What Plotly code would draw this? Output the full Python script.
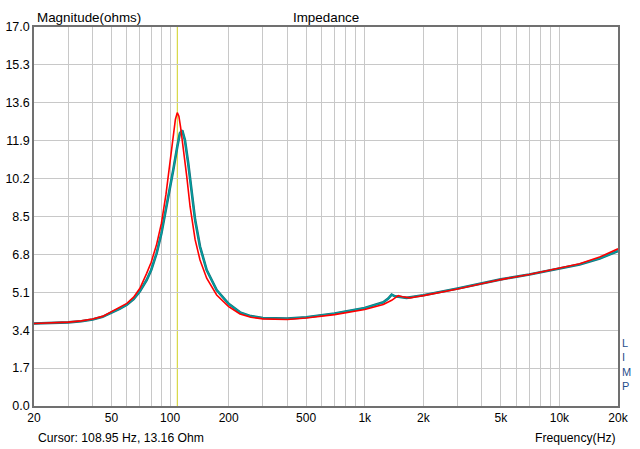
import plotly.graph_objects as go

red_freq = [20, 25, 30, 35, 40, 45, 50, 55, 60, 65, 70, 75.8, 80, 85.3, 90.3, 95.3, 100,
            103.9, 106.5, 108.9, 111, 113.3, 116.9, 121.8, 126.7, 134.5, 142.5, 154.2,
            173.5, 200, 228.8, 260, 300, 400, 500, 700, 1000, 1245, 1375, 1486, 1560,
            1707, 1848, 2000, 3000, 4000, 5000, 7000, 10000, 12700, 16100, 20000]
red_ohm = [3.70, 3.72, 3.76, 3.82, 3.90, 4.02, 4.22, 4.40, 4.60, 4.88, 5.28, 5.95, 6.45,
           7.25, 8.20, 9.50, 11.00, 12.20, 12.85, 13.16, 13.00, 12.50, 11.63, 10.30, 8.95,
           7.46, 6.55, 5.73, 4.98, 4.46, 4.13, 3.98, 3.91, 3.88, 3.95, 4.10, 4.33, 4.55,
           4.74, 4.95, 4.90, 4.85, 4.90, 4.95, 5.25, 5.48, 5.67, 5.90, 6.17, 6.38, 6.68,
           7.05]

teal_freq = [20, 25, 30, 35, 40, 45, 50, 55, 60, 65, 70, 75.8, 80, 85.3, 90.3, 95.3, 100,
             103.9, 108.9, 112.3, 115.5, 119.2, 123.9, 128.9, 134.5, 142.5, 154.2, 173.5,
             200, 228.8, 260, 300, 400, 500, 700, 1000, 1245, 1320, 1375, 1430, 1641,
             1848, 2000, 3000, 4000, 5000, 7000, 10000, 12700, 16100, 20000]
teal_ohm = [3.70, 3.72, 3.75, 3.80, 3.88, 4.00, 4.18, 4.36, 4.55, 4.80, 5.15, 5.65, 6.10,
            6.85, 7.75, 8.80, 9.78, 10.60, 11.63, 12.23, 12.36, 11.93, 10.90, 9.56, 8.35,
            7.15, 6.10, 5.20, 4.58, 4.20, 4.03, 3.95, 3.92, 3.98, 4.15, 4.40, 4.65, 4.82,
            5.00, 4.92, 4.85, 4.92, 4.97, 5.27, 5.50, 5.68, 5.90, 6.15, 6.35, 6.62, 6.95]

grid_freqs = [20, 30, 40, 50, 60, 70, 80, 90, 100, 200, 300, 400, 500, 600, 700, 800,
              900, 1000, 2000, 3000, 4000, 5000, 6000, 7000, 8000, 9000, 10000, 20000]
labelled = {20: "20", 50: "50", 100: "100", 200: "200", 500: "500", 1000: "1k",
            2000: "2k", 5000: "5k", 10000: "10k", 20000: "20k"}
x_tick_text = [labelled.get(f, "") for f in grid_freqs]

y_ticks = [0.0, 1.7, 3.4, 5.1, 6.8, 8.5, 10.2, 11.9, 13.6, 15.3, 17.0]
cursor_hz = 108.95
cursor_ohm = 13.16

font_family = "Liberation Sans, Arial, sans-serif"

fig = go.Figure()
fig.add_trace(go.Scatter(x=teal_freq, y=teal_ohm, mode="lines",
                         line=dict(color="#1a6f7a", width=2.6),
                         hoverinfo="skip", showlegend=False))
fig.add_trace(go.Scatter(x=teal_freq, y=teal_ohm, mode="lines",
                         line=dict(color="#00a0a0", width=1.4),
                         showlegend=False))
fig.add_trace(go.Scatter(x=red_freq, y=red_ohm, mode="lines",
                         line=dict(color="#ff0000", width=1.6),
                         showlegend=False))

fig.add_shape(type="line", xref="x", yref="paper", x0=cursor_hz, x1=cursor_hz, y0=0, y1=1,
              line=dict(color="#d0d020", width=1), layer="below")

fig.update_layout(
    width=640, height=449,
    margin=dict(l=34, r=22, t=27, b=43, autoexpand=False),
    paper_bgcolor="white", plot_bgcolor="white",
    font=dict(family=font_family, size=12, color="#000000"),
    showlegend=False,
    xaxis=dict(type="log", range=[1.30103, 4.30103], automargin=False,
               tickvals=grid_freqs, ticktext=x_tick_text,
               showgrid=True, gridcolor="#c8c8c8", gridwidth=1,
               showline=True, linecolor="#707070", linewidth=1.5, mirror=True,
               ticks="", zeroline=False, tickfont=dict(size=12)),
    yaxis=dict(range=[0, 17], tickvals=y_ticks, automargin=False,
               ticktext=[f"{v:.1f}" for v in y_ticks],
               showgrid=True, gridcolor="#c8c8c8", gridwidth=1,
               showline=True, linecolor="#707070", linewidth=1.5, mirror=True,
               ticks="", zeroline=False, tickfont=dict(size=12.5)),
    annotations=[
        dict(text="Magnitude(ohms)", xref="paper", yref="paper", x=0.002, y=1.0,
             xanchor="left", yanchor="bottom", yshift=0, showarrow=False,
             font=dict(size=13.4)),
        dict(text="Impedance", xref="paper", yref="paper", x=0.5, y=1.0,
             xanchor="center", yanchor="bottom", yshift=0, showarrow=False,
             font=dict(size=13.4)),
        dict(text=f"Cursor: {cursor_hz:.2f} Hz, {cursor_ohm:.2f} Ohm", xref="paper",
             yref="paper", x=0.003, y=0, xanchor="left", yanchor="top", yshift=-23,
             showarrow=False, font=dict(size=12.2)),
        dict(text="Frequency(Hz)", xref="paper", yref="paper", x=1.0, y=0,
             xanchor="right", yanchor="top", yshift=-23, showarrow=False,
             font=dict(size=12.2)),
        dict(text="L<br>I<br>M<br>P", xref="paper", yref="paper", x=1.0, y=0,
             xanchor="left", yanchor="bottom", xshift=2, yshift=12, showarrow=False,
             align="left", font=dict(size=11, color="#1f4e8c")),
    ],
)

fig.write_html("out.html", post_script="document.body.style.margin='0';",
               config={"displayModeBar": False})
